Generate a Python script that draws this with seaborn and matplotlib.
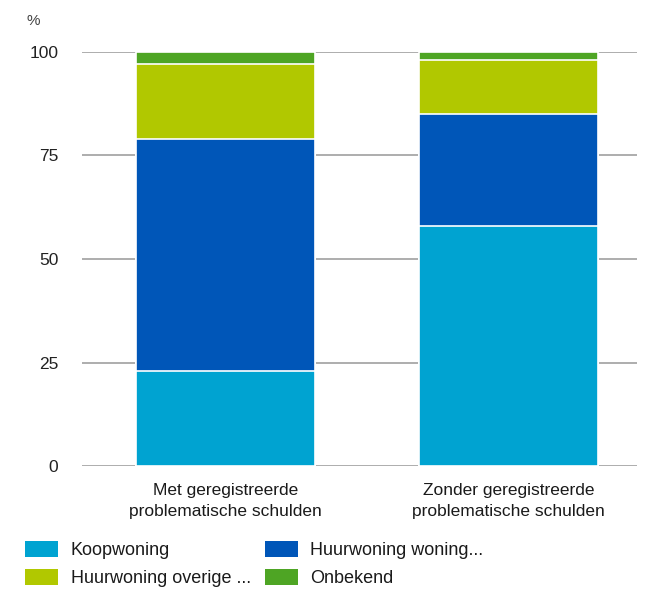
import matplotlib
matplotlib.use("Agg")
import matplotlib.pyplot as plt
import seaborn as sns
import pandas as pd
import numpy as np
from matplotlib.patches import Patch

# data (percent)
groups = ["Met geregistreerde\nproblematische schulden",
          "Zonder geregistreerde\nproblematische schulden"]
series = ["Koopwoning", "Huurwoning woning...", "Huurwoning overige ...", "Onbekend"]
koopwoning = [23, 58]
huur_woning = [56, 27]
huur_overige = [18, 13]
onbekend = [3, 2]
colors = ["#00a3d1", "#0056b8", "#b1c800", "#4ea524"]

sns.set_theme(style="white")
plt.rcParams['font.family'] = ['Liberation Sans', 'DejaVu Sans']

values = np.array([koopwoning, huur_woning, huur_overige, onbekend])
cum = values.cumsum(axis=0)

fig = plt.figure(figsize=(6.55, 5.96), dpi=100)
ax = fig.add_axes([0.125, 0.218, 0.848, 0.695])

# draw stacked bars top-down so lower segments cover the taller ones
for i in range(len(series) - 1, -1, -1):
    df = pd.DataFrame({"group": groups, "value": cum[i]})
    sns.barplot(data=df, x="group", y="value", color=colors[i], width=0.634,
                saturation=1, edgecolor="white", linewidth=1.2, ax=ax)

ax.set_ylim(0, 100)
ax.set_xlim(-0.508, 1.456)
ax.set_yticks([0, 25, 50, 75, 100])
ax.yaxis.grid(True, color="#a0a0a0", linewidth=1.2)
ax.set_axisbelow(True)
for s in ax.spines.values():
    s.set_visible(False)
ax.set_xlabel("")
ax.set_ylabel("")
ax.tick_params(axis="y", length=0, pad=17, labelsize=12.5, labelcolor="#222222")
ax.tick_params(axis="x", length=0, pad=12, labelsize=12.5, labelcolor="#1a1a1a")
ax.set_xticks([0, 1])
ax.set_xticklabels(groups, linespacing=1.55)

fig.text(0.04, 0.965, "%", fontsize=11, color="#444444", va="center")

handles = [Patch(facecolor=c, edgecolor="none") for c in colors]
order = [0, 2, 1, 3]
fig.legend([handles[k] for k in order], [series[k] for k in order],
           loc="lower left", bbox_to_anchor=(0.025, 0.0), ncol=2, frameon=False,
           fontsize=13, handlelength=1.8, handleheight=1.0, handletextpad=0.7,
           columnspacing=0.8, labelspacing=0.55, borderaxespad=0.1,
           labelcolor="#1a1a1a")

fig.savefig("out.png", dpi=100)
